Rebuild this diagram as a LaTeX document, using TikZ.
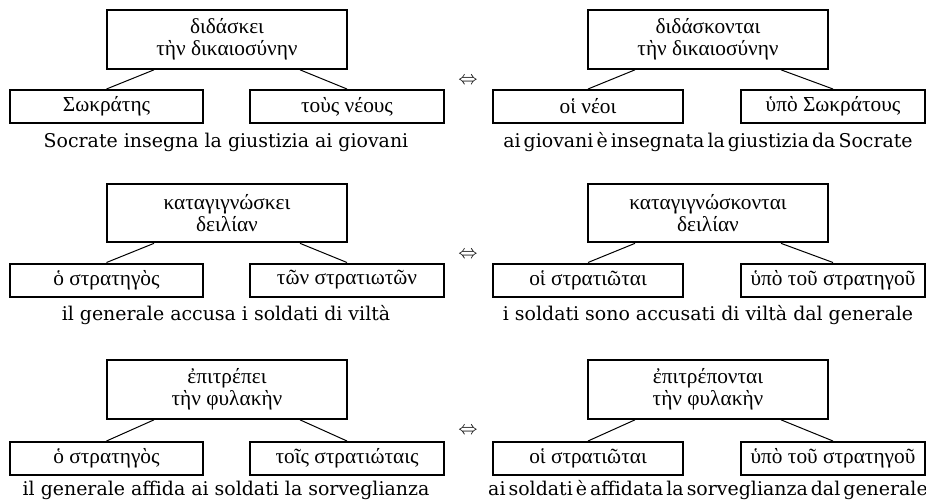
\documentclass[tikz,border=0pt]{standalone}
\usepackage{fontspec}
\setmainfont{Liberation Serif}
\newfontfamily\itfont{DejaVu Serif}
\usepackage{amsmath}
\usetikzlibrary{positioning}
\newcommand\tightwords{\spaceskip 2.3pt\relax}

\begin{document}
\begin{tikzpicture}[
    x=0.75pt, y=-0.75pt,
    headbox/.style={
        rectangle,
        draw=black,
        line width=1.5pt,
        align=center,
        minimum width=180pt,
        minimum height=44pt,
        inner sep=0pt,
        font=\fontsize{16}{16.5}\selectfont
    },
    argbox/.style={
        rectangle,
        draw=black,
        line width=1.5pt,
        align=center,
        minimum height=24.75pt,
        inner sep=0pt,
        font=\fontsize{16}{16.5}\selectfont
    },
    transl/.style={
        anchor=base,
        inner sep=0pt,
        font=\itfont\fontsize{14.2}{16}\selectfont
    },
    tighttransl/.style={
        transl,
        font=\itfont\fontsize{14.2}{16}\selectfont\tightwords
    },
    branch/.style={
        line width=0.75pt,
        draw=black
    },
    equiv/.style={
        inner sep=0pt,
        font=\Large
    }
]
\useasboundingbox (0,0) rectangle (926,501);

% Row 1, active
\node[headbox] (h1a) at (227,39.5) {διδάσκει\\τὴν δικαιοσύνην};
\node[argbox, minimum width=144.75pt] (s1a) at (106.5,106.5) {Σωκράτης};
\node[argbox, minimum width=145.5pt] (o1a) at (347,106.5) {τοὺς νέους};
\node[transl] (t1a) at (226,147) {Socrate insegna la giustizia ai giovani};
\draw[branch] ([xshift=-73*0.75pt]h1a.south) -- (s1a.north);
\draw[branch] ([xshift=73*0.75pt]h1a.south) -- (o1a.north);

% Row 1, passive
\node[headbox] (h1p) at (708,39.5) {διδάσκονται\\τὴν δικαιοσύνην};
\node[argbox, minimum width=142.5pt] (s1p) at (588,106.5) {οἱ νέοι};
\node[argbox, minimum width=138pt] (o1p) at (833,106.5) {ὑπὸ Σωκράτους};
\node[tighttransl] (t1p) at (708,147) {ai giovani è insegnata la giustizia da Socrate};
\draw[branch] ([xshift=-73*0.75pt]h1p.south) -- (s1p.north);
\draw[branch] ([xshift=73*0.75pt]h1p.south) -- (o1p.north);

\node[equiv] (e1) at (468,81) {$\Leftrightarrow$};

% Row 2, active
\node[headbox] (h2a) at (227,213) {καταγιγνώσκει\\δειλίαν};
\node[argbox, minimum width=144.75pt] (s2a) at (106.5,280) {ὁ στρατηγὸς};
\node[argbox, minimum width=145.5pt] (o2a) at (347,280) {τῶν στρατιωτῶν};
\node[transl] (t2a) at (226,320.5) {il generale accusa i soldati di viltà};
\draw[branch] ([xshift=-73*0.75pt]h2a.south) -- (s2a.north);
\draw[branch] ([xshift=73*0.75pt]h2a.south) -- (o2a.north);

% Row 2, passive
\node[headbox] (h2p) at (708,213) {καταγιγνώσκονται\\δειλίαν};
\node[argbox, minimum width=142.5pt] (s2p) at (588,280) {οἱ στρατιῶται};
\node[argbox, minimum width=138pt] (o2p) at (833,280) {ὑπὸ τοῦ στρατηγοῦ};
\node[transl] (t2p) at (708,320.5) {i soldati sono accusati di viltà dal generale};
\draw[branch] ([xshift=-73*0.75pt]h2p.south) -- (s2p.north);
\draw[branch] ([xshift=73*0.75pt]h2p.south) -- (o2p.north);

\node[equiv] (e2) at (468,254.5) {$\Leftrightarrow$};

% Row 3, active
\node[headbox] (h3a) at (227,389.5) {ἐπιτρέπει\\τὴν φυλακὴν};
\node[argbox, minimum width=144.75pt] (s3a) at (106.5,458.5) {ὁ στρατηγὸς};
\node[argbox, minimum width=145.5pt] (o3a) at (347,458.5) {τοῖς στρατιώταις};
\node[transl] (t3a) at (226,495) {il generale affida ai soldati la sorveglianza};
\draw[branch] ([xshift=-73*0.75pt]h3a.south) -- (s3a.north);
\draw[branch] ([xshift=73*0.75pt]h3a.south) -- (o3a.north);

% Row 3, passive
\node[headbox] (h3p) at (708,389.5) {ἐπιτρέπονται\\τὴν φυλακὴν};
\node[argbox, minimum width=142.5pt] (s3p) at (588,458.5) {οἱ στρατιῶται};
\node[argbox, minimum width=138pt] (o3p) at (833,458.5) {ὑπὸ τοῦ στρατηγοῦ};
\node[tighttransl] (t3p) at (708,495) {ai soldati è affidata la sorveglianza dal generale};
\draw[branch] ([xshift=-73*0.75pt]h3p.south) -- (s3p.north);
\draw[branch] ([xshift=73*0.75pt]h3p.south) -- (o3p.north);

\node[equiv] (e3) at (468,431) {$\Leftrightarrow$};

\end{tikzpicture}
\end{document}
